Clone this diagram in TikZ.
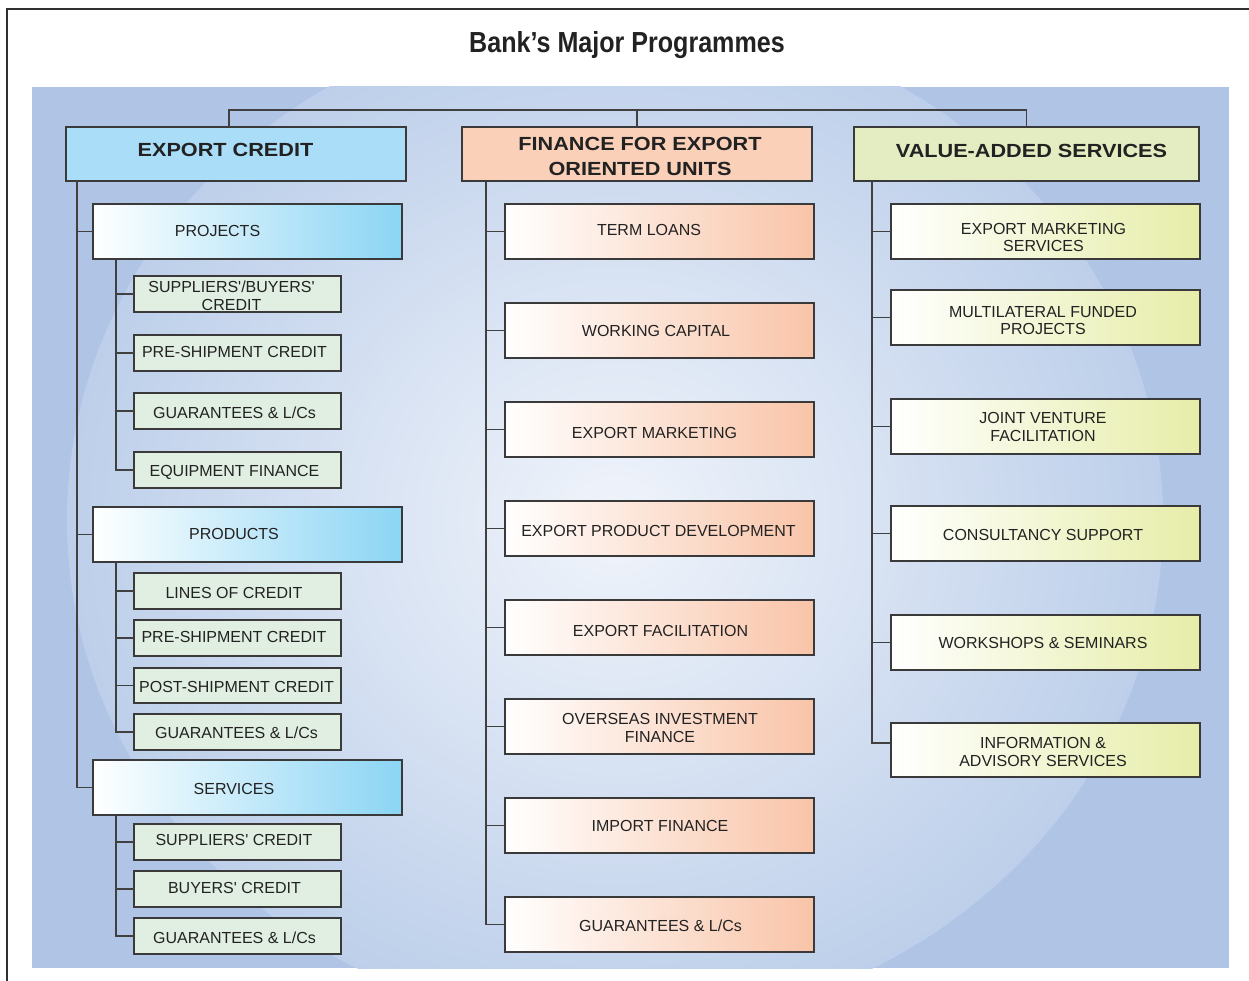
\documentclass[tikz,border=0pt]{standalone}
\usepackage{fontspec}
\setmainfont{Liberation Sans}
\newfontfamily\titlefont[FakeStretch=0.865]{Liberation Sans}
\newfontfamily\headfont[FakeStretch=1.14]{Liberation Sans}
\usetikzlibrary{fit,calc}
\definecolor{panel}{HTML}{B0C5E5}
\definecolor{glowin}{HTML}{F0F4FB}
\definecolor{glowout}{HTML}{BDCFEA}
\definecolor{ecfill}{HTML}{A9DDF8}
\definecolor{finfill}{HTML}{FBD0B9}
\definecolor{valfill}{HTML}{E4ECC2}
\definecolor{bluegr}{HTML}{8BD5F4}
\definecolor{peachgr}{HTML}{F9C4A8}
\definecolor{limegr}{HTML}{E6EDA8}
\definecolor{leaffill}{HTML}{E0EFE2}
\definecolor{boxline}{HTML}{3A3A3A}
\definecolor{linec}{HTML}{404040}
\definecolor{txtc}{HTML}{222222}
\definecolor{framec}{HTML}{303030}
\newcommand\mybox[7]{%
  \node[#1, fit={(#4) (#5)}] (#3) {};
  \node[#2] (#3-t) at ([shift={(#6)}]#3.center) {#7};}
\newcommand\q{\textquotesingle}
\begin{document}
\begin{tikzpicture}[x=1pt,y=-1pt,
  link/.style={draw=linec, line width=1.5pt},
  boxbase/.style={draw=boxline, line width=1.1pt, inner sep=0pt, outer sep=0pt},
  hdrec/.style={boxbase, fill=ecfill},
  hdrfin/.style={boxbase, fill=finfill},
  hdrval/.style={boxbase, fill=valfill},
  subblue/.style={boxbase, left color=white, right color=bluegr},
  subpeach/.style={boxbase, left color=white, right color=peachgr},
  sublime/.style={boxbase, left color=white, right color=limegr},
  leaf/.style={boxbase, fill=leaffill},
  lbl/.style={inner sep=0pt, align=center, text=txtc, font=\fontsize{16}{17.5}\selectfont},
  hlbl/.style={inner sep=0pt, align=center, text=txtc, font=\headfont\bfseries\fontsize{19}{25}\selectfont},
]
\useasboundingbox (0,0) rectangle (1249,981);
\fill[white] (0,0) rectangle (1249,981);
% frame
\draw[line width=1.3pt, draw=framec] (7,981) -- (7,9) -- (1249,9);
% title
\node[anchor=base, text=txtc, inner sep=0pt, font=\titlefont\bfseries\fontsize{29}{32}\selectfont] (title) at (627,53) {Bank’s Major Programmes};
% panel
\fill[panel] (32,87) rectangle (1229,968);
\begin{scope}
\clip (32,87) rectangle (1229,968);
\shade[inner color=glowin, outer color=glowout] (615,520) ellipse [x radius=548pt, y radius=508pt];
\end{scope}

% headers
\mybox{hdrec}{hlbl}{ec}{66,127}{406,181}{-10.5,-4}{EXPORT CREDIT}
\mybox{hdrfin}{hlbl}{fin}{462,127}{812,181}{3,2.5}{FINANCE FOR EXPORT\\ORIENTED UNITS}
\mybox{hdrval}{hlbl}{val}{854,127}{1199,181}{5,-3.5}{VALUE-ADDED SERVICES}

% top bar
\coordinate (bar) at (0,110);
\draw[link] ([xshift=-7pt]ec.north) |- (val.north |- bar) -- (val.north);
\draw[link] (fin.north |- bar) -- (fin.north);

% left column
\mybox{subblue}{lbl}{proj}{93,204}{402,259}{-30,-1}{PROJECTS}
\mybox{leaf}{lbl}{sb}{134,276}{341,312}{-6,2}{SUPPLIERS\q/BUYERS\q\\CREDIT}
\mybox{leaf}{lbl}{psa}{134,335}{341,371}{-3,-1}{PRE-SHIPMENT CREDIT}
\mybox{leaf}{lbl}{ga}{134,393}{341,429}{-3,1.5}{GUARANTEES \& L/Cs}
\mybox{leaf}{lbl}{eq}{134,452}{341,488}{-3,2}{EQUIPMENT FINANCE}
\mybox{subblue}{lbl}{prod}{93,507}{402,562}{-13.5,-1}{PRODUCTS}
\mybox{leaf}{lbl}{loc}{134,573}{341,609}{-3.5,2}{LINES OF CREDIT}
\mybox{leaf}{lbl}{psb}{134,620}{341,656}{-3.5,-1}{PRE-SHIPMENT CREDIT}
\mybox{leaf}{lbl}{post}{134,668}{341,703}{-1,1}{POST-SHIPMENT CREDIT}
\mybox{leaf}{lbl}{gb}{134,714}{341,750}{-1,1}{GUARANTEES \& L/Cs}
\mybox{subblue}{lbl}{serv}{93,760}{402,815}{-13.5,1}{SERVICES}
\mybox{leaf}{lbl}{sc}{134,824}{341,860}{-3.5,-2.5}{SUPPLIERS\q{} CREDIT}
\mybox{leaf}{lbl}{bc}{134,871}{341,907}{-3,-1.5}{BUYERS\q{} CREDIT}
\mybox{leaf}{lbl}{gc}{134,918}{341,954}{-3,2}{GUARANTEES \& L/Cs}

\coordinate (ltr) at ([xshift=11pt]ec.south west);
\draw[link] (ltr) |- (serv.west);
\draw[link] (ltr) |- (proj.west);
\draw[link] (ltr) |- (prod.west);
\coordinate (s1) at ([xshift=23pt]proj.south west);
\draw[link] (s1) |- (eq.west);
\foreach \n in {sb,psa,ga} \draw[link] (s1) |- (\n.west);
\coordinate (s2) at ([xshift=23pt]prod.south west);
\draw[link] (s2) |- (gb.west);
\foreach \n in {loc,psb,post} \draw[link] (s2) |- (\n.west);
\coordinate (s3) at ([xshift=23pt]serv.south west);
\draw[link] (s3) |- (gc.west);
\foreach \n in {sc,bc} \draw[link] (s3) |- (\n.west);

% middle column
\mybox{subpeach}{lbl}{tl}{505,204}{814,259}{-10.5,-1.5}{TERM LOANS}
\mybox{subpeach}{lbl}{wc}{505,303}{814,358}{-3.5,0}{WORKING CAPITAL}
\mybox{subpeach}{lbl}{em}{505,402}{814,457}{-5,3}{EXPORT MARKETING}
\mybox{subpeach}{lbl}{epd}{505,501}{814,556}{-1,2}{EXPORT PRODUCT DEVELOPMENT}
\mybox{subpeach}{lbl}{ef}{505,600}{814,655}{1,3.5}{EXPORT FACILITATION}
\mybox{subpeach}{lbl}{oif}{505,699}{814,754}{0.5,1.5}{OVERSEAS INVESTMENT\\FINANCE}
\mybox{subpeach}{lbl}{imp}{505,798}{814,853}{0.5,0.5}{IMPORT FINANCE}
\mybox{subpeach}{lbl}{gd}{505,897}{814,952}{1,1}{GUARANTEES \& L/Cs}
\coordinate (mtr) at ([xshift=24pt]fin.south west);
\draw[link] (mtr) |- (gd.west);
\foreach \n in {tl,wc,em,epd,ef,oif,imp} \draw[link] (mtr) |- (\n.west);

% right column
\mybox{sublime}{lbl}{ems}{891,204}{1200,259}{-2,6}{EXPORT MARKETING\\SERVICES}
\mybox{sublime}{lbl}{mfp}{891,290}{1200,345}{-2.5,3}{MULTILATERAL FUNDED\\PROJECTS}
\mybox{sublime}{lbl}{jvf}{891,399}{1200,454}{-2.5,0.5}{JOINT VENTURE\\FACILITATION}
\mybox{sublime}{lbl}{cs}{891,506}{1200,561}{-2.5,1}{CONSULTANCY SUPPORT}
\mybox{sublime}{lbl}{ws}{891,615}{1200,670}{-2.5,0.5}{WORKSHOPS \& SEMINARS}
\mybox{sublime}{lbl}{ias}{891,723}{1200,777}{-2.5,2}{INFORMATION \&\\ADVISORY SERVICES}
\coordinate (rtr) at ([xshift=18pt]val.south west);
\draw[link] (rtr) |- ([yshift=7pt]ias.west);
\foreach \n in {ems,mfp,jvf,cs,ws} \draw[link] (rtr) |- (\n.west);
\end{tikzpicture}
\end{document}
